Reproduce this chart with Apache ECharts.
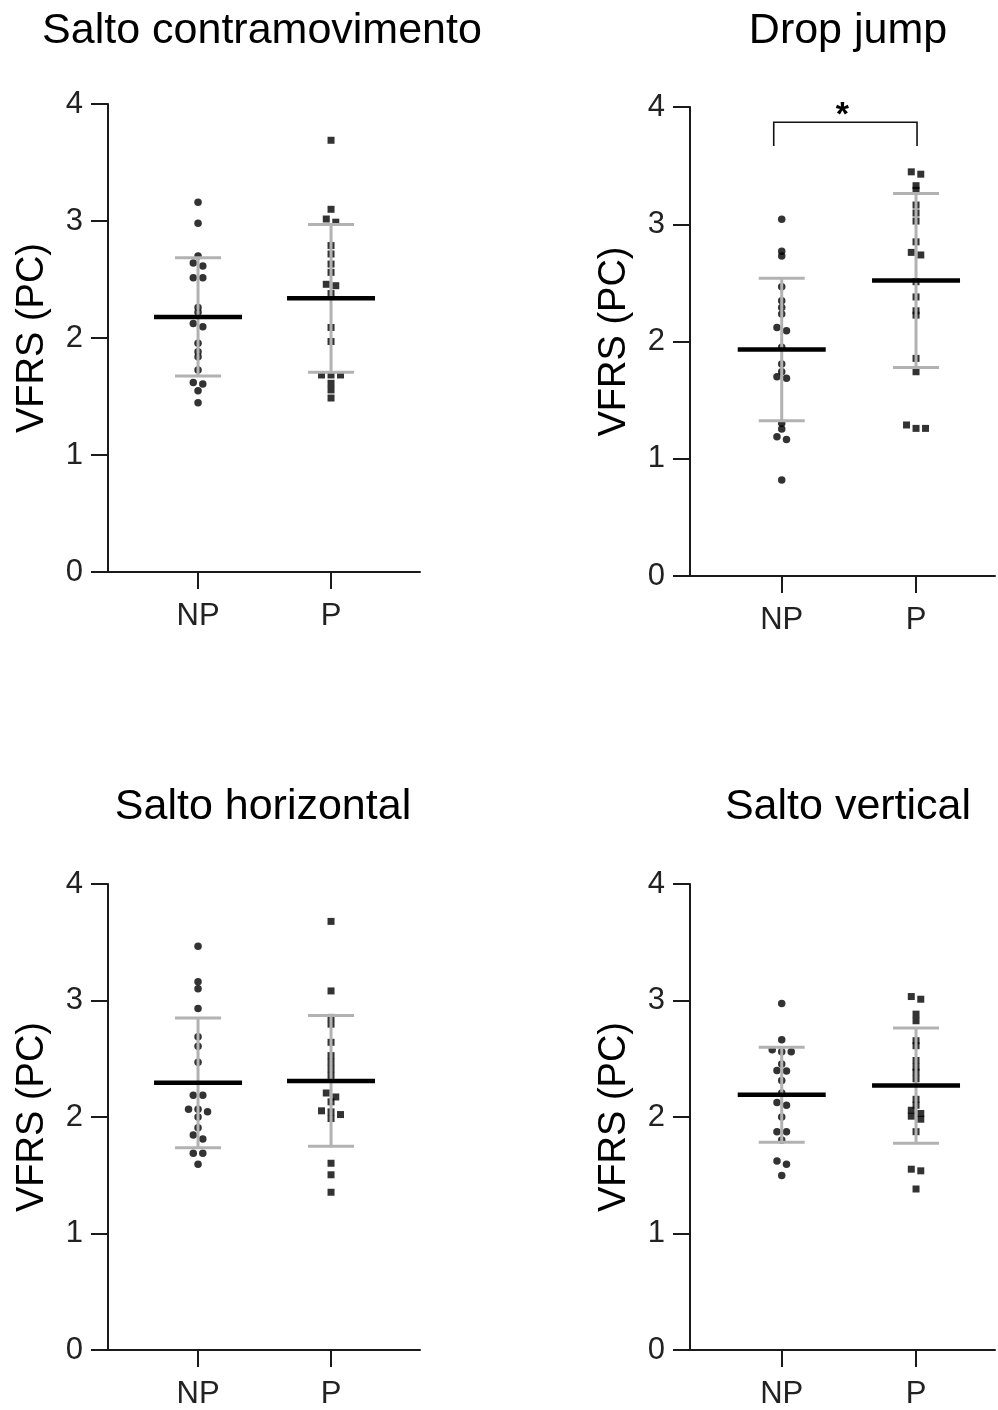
<!DOCTYPE html>
<html><head><meta charset="utf-8">
<script src="https://cdn.jsdelivr.net/npm/echarts@6/dist/echarts.min.js"></script>
<style>html,body{margin:0;padding:0;background:#fff}#c{width:998px;height:1410px}</style>
</head><body><div id="c"></div>
<script>
// ---- data ----
const titles = ['Salto contramovimento', 'Drop jump', 'Salto horizontal', 'Salto vertical'];
const groups = ['NP', 'P'];
const yTickValues = [0, 1, 2, 3, 4];
const yAxisName = 'VFRS (PC)';

const cmjNP = [3.16, 2.98, 2.70, 2.64, 2.615, 2.515, 2.515, 2.26, 2.22, 2.125, 2.097, 1.955, 1.883, 1.84, 1.726, 1.62, 1.607, 1.55, 1.447];
const cmjP  = [3.69, 3.10, 3.017, 2.99, 2.79, 2.718, 2.632, 2.561, 2.459, 2.447, 2.38, 2.09, 1.97, 1.684, 1.684, 1.684, 1.613, 1.556, 1.487];
const djNP  = [3.042, 2.77, 2.73, 2.467, 2.348, 2.29, 2.234, 2.12, 2.092, 1.95, 1.808, 1.742, 1.70, 1.686, 1.302, 1.254, 1.188, 1.165, 0.818];
const djP   = [3.447, 3.427, 3.329, 3.29, 3.164, 3.096, 3.027, 2.85, 2.76, 2.738, 2.51, 2.38, 2.262, 2.225, 1.856, 1.742, 1.288, 1.259, 1.259];
const shNP  = [3.465, 3.16, 3.10, 2.931, 2.689, 2.607, 2.471, 2.186, 2.186, 2.067, 2.067, 2.044, 2.0, 1.908, 1.845, 1.811, 1.689, 1.689, 1.595];
const shP   = [3.679, 3.082, 2.855, 2.797, 2.641, 2.527, 2.471, 2.414, 2.357, 2.206, 2.172, 2.13, 2.053, 2.044, 2.021, 1.987, 1.603, 1.504, 1.354];
const svNP  = [2.974, 2.664, 2.578, 2.561, 2.561, 2.456, 2.399, 2.394, 2.314, 2.206, 2.124, 2.101, 2.0, 1.874, 1.874, 1.802, 1.623, 1.595, 1.498];
const svP   = [3.034, 3.011, 2.883, 2.826, 2.655, 2.612, 2.485, 2.428, 2.385, 2.328, 2.152, 2.101, 2.058, 2.03, 2.007, 1.981, 1.874, 1.552, 1.538, 1.382];

// mean and SD per group [NP, P]
const cmjMean = [2.18, 2.339];  const cmjSD = [0.505, 0.632];
const djMean  = [1.932, 2.52];  const djSD  = [0.608, 0.742];
const shMean  = [2.293, 2.31];  const shSD  = [0.556, 0.561];
const svMean  = [2.191, 2.27];  const svSD  = [0.408, 0.495];

// significance: panel index, group pair, label
const sigPanel = 1; const sigPair = ['NP', 'P']; const sigLabel = '*';

// ---- layout ----
const FONT = '"Liberation Sans", Arial, sans-serif';
const panels = [
  { np: cmjNP, p: cmjP, mean: cmjMean, sd: cmjSD, grid: { left: 108, top: 104, width: 312, height: 468 }, xr: [0.323, 2.669], tx: 262, ty: 31 },
  { np: djNP,  p: djP,  mean: djMean,  sd: djSD,  grid: { left: 690, top: 107, width: 305, height: 469 }, xr: [0.317, 2.588], tx: 848, ty: 31 },
  { np: shNP,  p: shP,  mean: shMean,  sd: shSD,  grid: { left: 108, top: 884, width: 312, height: 469 }, xr: [0.323, 2.669], tx: 263, ty: 807 },
  { np: svNP,  p: svP,  mean: svMean,  sd: svSD,  grid: { left: 690, top: 884, width: 305, height: 469 }, xr: [0.317, 2.588], tx: 848, ty: 807 }
];

// beeswarm layout in pixels
function swarm(vals, xCat, pxPerUnit) {
  const sorted = vals.slice().sort((a, b) => b - a);
  const rows = [];
  for (const v of sorted) {
    const last = rows[rows.length - 1];
    if (last && (last[0] - v) * pxPerUnit < 4.2) last.push(v); else rows.push([v]);
  }
  const out = [];
  rows.forEach(r => r.forEach((v, i) => out.push({ value: [xCat, v], symbolOffset: [(i - (r.length - 1) / 2) * 9.5, 0] })));
  return out;
}

function renderErr(params, api) {
  const x = api.value(0), m = api.value(1), s = api.value(2);
  const c = api.coord([x, m]);
  const t = api.coord([x, m + s]);
  const b = api.coord([x, m - s]);
  const capW = 23, meanW = 44;
  const gray = { stroke: '#b2b2b2', lineWidth: 3 };
  return {
    type: 'group', children: [
      { type: 'line', shape: { x1: c[0], y1: t[1], x2: c[0], y2: b[1] }, style: gray },
      { type: 'line', shape: { x1: c[0] - capW, y1: t[1], x2: c[0] + capW, y2: t[1] }, style: gray },
      { type: 'line', shape: { x1: c[0] - capW, y1: b[1], x2: c[0] + capW, y2: b[1] }, style: gray },
      { type: 'line', shape: { x1: c[0] - meanW, y1: c[1], x2: c[0] + meanW, y2: c[1] }, style: { stroke: '#000', lineWidth: 4.5 } }
    ]
  };
}

function renderSig(params, api) {
  const a = api.coord([api.value(0), 3.87]);
  const bb = api.coord([api.value(1), 3.87]);
  const legEnd = api.coord([api.value(0), 3.667]);
  const x1 = a[0] - 8, x2 = bb[0] + 1, y = a[1], y2 = legEnd[1];
  return {
    type: 'group', children: [
      { type: 'polyline', shape: { points: [[x1, y2], [x1, y], [x2, y], [x2, y2]] }, style: { stroke: '#111', lineWidth: 1.6, fill: null } },
      { type: 'text', style: { text: sigLabel, x: (x1 + x2) / 2 - 3, y: y - 7, align: 'center', verticalAlign: 'middle', font: 'bold 34px ' + FONT, fill: '#000' } }
    ]
  };
}

const grid = [], xAxis = [], yAxis = [], series = [], graphic = [];
const axisColor = '#1a1a1a';
panels.forEach((P, i) => {
  grid.push(Object.assign({ containLabel: false }, P.grid));
  xAxis.push({
    type: 'value', gridIndex: i, min: P.xr[0], max: P.xr[1],
    axisLine: { show: true, onZero: false, lineStyle: { color: axisColor, width: 2 } },
    axisTick: { show: true, customValues: [1, 2], length: 17, lineStyle: { color: axisColor, width: 2 } },
    axisLabel: { customValues: [1, 2], formatter: v => groups[Math.round(v) - 1] || '', margin: 29, fontSize: 31, color: '#222', fontFamily: FONT },
    splitLine: { show: false }
  });
  yAxis.push({
    type: 'value', gridIndex: i, min: yTickValues[0], max: yTickValues[yTickValues.length - 1], interval: 1,
    name: yAxisName, nameLocation: 'middle', nameGap: 56, nameRotate: 90,
    nameTextStyle: { fontSize: 38, color: '#000', fontFamily: FONT },
    axisLine: { show: true, lineStyle: { color: axisColor, width: 2 } },
    axisTick: { show: true, length: 17, lineStyle: { color: axisColor, width: 2 } },
    axisLabel: { margin: 25, fontSize: 31, color: '#222', fontFamily: FONT },
    splitLine: { show: false }
  });
  series.push({
    type: 'scatter', xAxisIndex: i, yAxisIndex: i, symbol: 'circle', symbolSize: 7.5,
    itemStyle: { color: '#000' }, z: 2, silent: true, data: swarm(P.np, 1, 117.25)
  });
  series.push({
    type: 'scatter', xAxisIndex: i, yAxisIndex: i, symbol: 'rect', symbolSize: 7,
    itemStyle: { color: '#000' }, z: 2, silent: true, data: swarm(P.p, 2, 117.25)
  });
  series.push({
    type: 'custom', xAxisIndex: i, yAxisIndex: i, z: 5, silent: true, renderItem: renderErr,
    data: [[1, P.mean[0], P.sd[0]], [2, P.mean[1], P.sd[1]]]
  });
  if (i === sigPanel) {
    series.push({
      type: 'custom', xAxisIndex: i, yAxisIndex: i, z: 5, silent: true, renderItem: renderSig,
      data: [[groups.indexOf(sigPair[0]) + 1, groups.indexOf(sigPair[1]) + 1]]
    });
  }
  graphic.push({
    type: 'text', x: P.tx, y: P.ty,
    style: { text: titles[i], font: '43px ' + FONT, fill: '#000', align: 'center', verticalAlign: 'middle' }
  });
});

const chart = echarts.init(document.getElementById('c'), null, { renderer: 'canvas' });
chart.setOption({ animation: false, backgroundColor: '#fff', grid, xAxis, yAxis, series, graphic });
</script>
</body></html>
